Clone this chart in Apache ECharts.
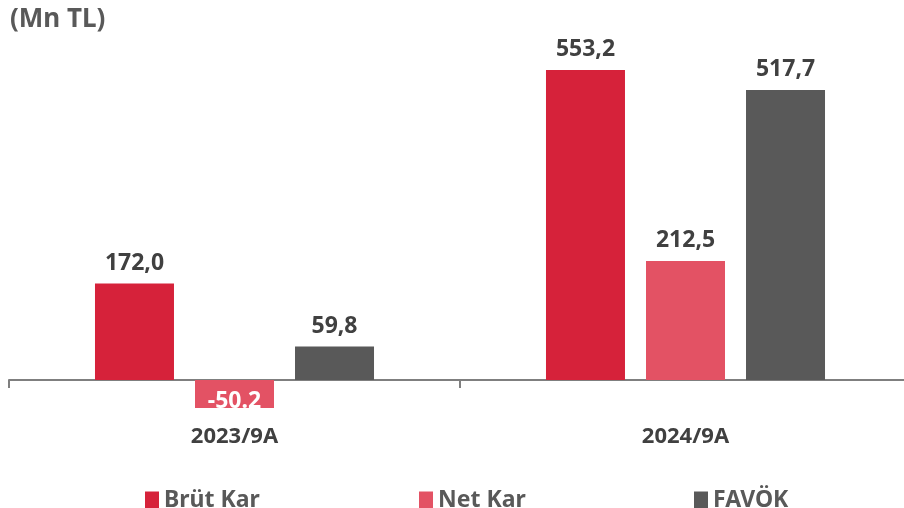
<!DOCTYPE html>
<html>
<head>
<meta charset="utf-8">
<script src="https://cdn.jsdelivr.net/npm/echarts@6/dist/echarts.min.js"></script>
<style>
    html, body { margin: 0; padding: 0; background: #fff; }
    #main { width: 904px; height: 508px; }
</style>
</head>
<body>
<div id="main"></div>
<script>
    var categories = ['2023/9A', '2024/9A'];
    var brutKar = [172.0, 553.2];
    var netKar = [-50.2, 212.5];
    var favok = [59.8, 517.7];
    var seriesNames = ['Brüt Kar', 'Net Kar', 'FAVÖK'];
    var colors = ['#D6223A', '#E35264', '#595959'];

    var fontFam = '"Noto Sans", "Open Sans", sans-serif';

    // virgül ile ondalık
    function fmtComma(p) {
        return p.value.toFixed(1).replace('.', ',');
    }

    var myChart = echarts.init(document.getElementById('main'));

    function bar(name, data, color) {
        return {
            name: name,
            type: 'bar',
            data: data,
            barWidth: 79,
            barGap: '26.6%',
            itemStyle: { color: color },
            label: {
                show: true,
                position: 'top',
                distance: 9,
                formatter: fmtComma,
                fontFamily: fontFam,
                fontWeight: 'bold',
                fontSize: 23,
                color: '#404040'
            }
        };
    }

    var s2 = bar(seriesNames[1], netKar.map(function (v) {
        if (v < 0) {
            return {
                value: v,
                label: {
                    position: 'inside',
                    color: '#fff',
                    offset: [0, 7],
                    formatter: function (p) { return p.value.toFixed(1); }
                }
            };
        }
        return v;
    }), colors[1]);

    function legendAt(name, left) {
        return {
            data: [name],
            left: left,
            top: 484,
            icon: 'rect',
            itemWidth: 14,
            itemHeight: 18,
            itemGap: 8,
            textStyle: {
                fontFamily: fontFam,
                fontWeight: 'bold',
                fontSize: 23,
                color: '#595959'
            }
        };
    }

    var option = {
        animation: false,
        title: {
            text: '(Mn TL)',
            left: 5,
            top: 2,
            textStyle: {
                fontFamily: fontFam,
                fontWeight: 'bold',
                fontSize: 26,
                color: '#595959'
            }
        },
        legend: [
            legendAt(seriesNames[0], 140),
            legendAt(seriesNames[1], 414),
            legendAt(seriesNames[2], 689)
        ],
        grid: { left: 9, right: -7, top: 43.8, bottom: 72, outerBoundsMode: 'none', containLabel: false },
        xAxis: {
            type: 'category',
            data: categories,
            axisLine: { lineStyle: { color: '#7f7f7f', width: 2 } },
            axisTick: { show: true, length: 8, lineStyle: { color: '#7f7f7f', width: 2 } },
            axisLabel: {
                margin: -10,
                fontFamily: fontFam,
                fontWeight: 'bold',
                fontSize: 22,
                color: '#404040'
            }
        },
        yAxis: {
            type: 'value',
            min: -100,
            max: 600,
            show: false,
            splitLine: { show: false }
        },
        series: [
            bar(seriesNames[0], brutKar, colors[0]),
            s2,
            bar(seriesNames[2], favok, colors[2])
        ]
    };

    myChart.setOption(option);
</script>
</body>
</html>
